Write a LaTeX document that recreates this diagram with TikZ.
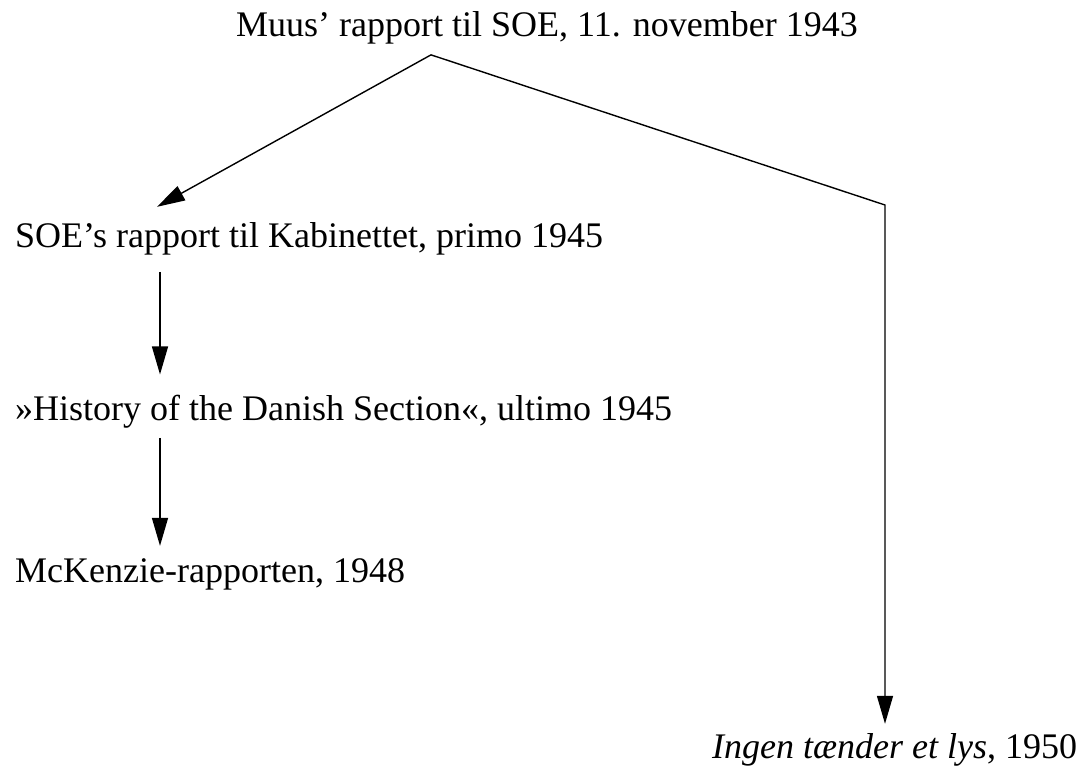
\documentclass[tikz,border=0pt]{standalone}
\usepackage{fontspec}
\setmainfont{Liberation Serif}
\usetikzlibrary{positioning,arrows.meta,calc}
\tikzset{%
  source/.style={inner sep=0pt, font=\fontsize{36}{40}\selectfont},% report / book
  derive/.style={-{Triangle[length=28pt,width=16pt]}, line width=1.4pt}% derived from
}

\begin{document}
\begin{tikzpicture}[x=1pt, y=-1pt]
\useasboundingbox (0,0) rectangle (1088,770);

\node[source, anchor=base] (muus) at (547,37) {Muus’ rapport til SOE, 11. november 1943};
\node[source, anchor=base west] (soe) at (15,248) {SOE’s rapport til Kabinettet, primo 1945};
\node[source, anchor=base west] (history) at (15,420) {»History of the Danish Section«, ultimo 1945};
\node[source, anchor=base west] (mck) at (15,582) {McKenzie-rapporten, 1948};
\node[source, anchor=base west] (ingen) at (712,758) {\textit{Ingen tænder et lys}, 1950};

\coordinate (split) at ($(muus.south)+(-116,10)$);
\coordinate (bend) at (885,205);

\draw[derive] (split) -- ([xshift=142pt,yshift=16pt]soe.north west);
\draw[derive, shorten <=16pt, shorten >=20pt] ([xshift=145pt]soe.south west) -- ([xshift=145pt]history.north west);
\draw[derive, shorten <=10pt, shorten >=12pt] ([xshift=145pt]history.south west) -- ([xshift=145pt]mck.north west);
\draw[derive, shorten >=9pt] (split) -- (bend) -- (bend |- ingen.north);

\end{tikzpicture}
\end{document}
